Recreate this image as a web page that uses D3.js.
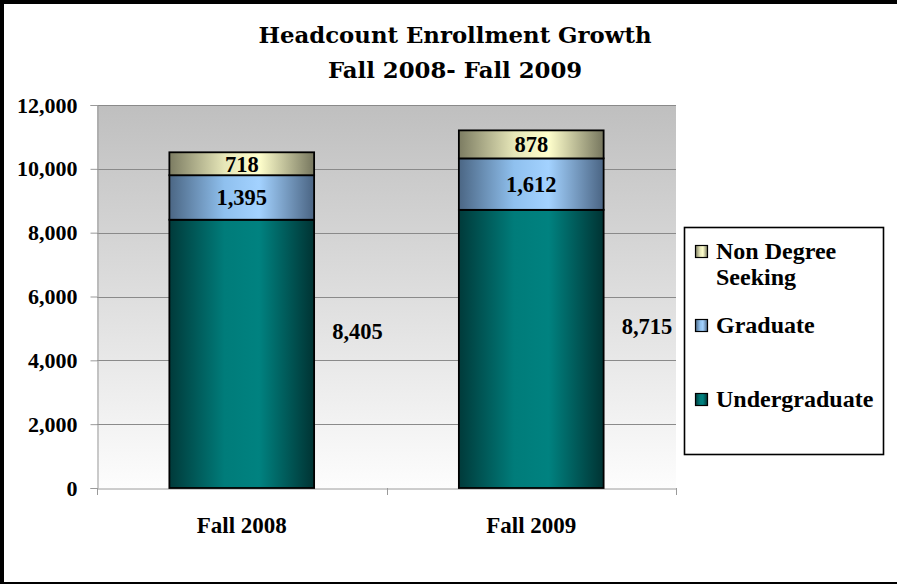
<!DOCTYPE html>
<html lang="en">
<head>
    <meta charset="UTF-8">
    <title>Headcount Enrollment Growth</title>
    <script src="https://d3js.org/d3.v7.min.js"></script>
    <style>
        body { margin: 0; background: #fff; }
        svg { display: block; }
        .num { font-family: "Liberation Serif", serif; font-weight: bold; }
        .title { font-family: "DejaVu Serif", serif; font-weight: bold; font-size: 22.8px; }
    </style>
</head>
<body>
    <svg width="897" height="584"></svg>
    <script>
        const width = 897;
        const height = 584;

        const categories = ["Fall 2008", "Fall 2009"];
        const undergraduate = [8405, 8715];
        const graduate = [1395, 1612];
        const nonDegree = [718, 878];
        const yTicks = [0, 2000, 4000, 6000, 8000, 10000, 12000];
        const seriesNames = ["Undergraduate", "Graduate", "Non Degree Seeking"];

        const svg = d3.select("svg");
        const defs = svg.append("defs");

        // plot area
        const plot = { left: 97, right: 676, top: 105, bottom: 488 };

        const x = d3.scaleBand()
            .domain(categories)
            .range([plot.left, plot.right])
            .paddingInner(0.5)
            .paddingOuter(0.25);

        const y = d3.scaleLinear()
            .domain([0, 12000])
            .range([plot.bottom, plot.top]);

        const fmt = d3.format(",");

        // gradients
        const bg = defs.append("linearGradient")
            .attr("id", "bg").attr("x1", 0).attr("y1", 0).attr("x2", 0).attr("y2", 1);
        bg.append("stop").attr("offset", 0).attr("stop-color", "#bfbfbf");
        bg.append("stop").attr("offset", 1).attr("stop-color", "#fdfdfd");

        const barColors = {
            "Undergraduate": ["#003a3a", "#007c7a", "#008280", "#003333"],
            "Graduate": ["#4b6684", "#8fc0ee", "#a3d2ff", "#4a6483"],
            "Non Degree Seeking": ["#7c7c62", "#e6e6b8", "#ffffcc", "#76765e"]
        };
        Object.entries(barColors).forEach(([name, c], i) => {
            const g = defs.append("linearGradient")
                .attr("id", "g" + i).attr("x1", 0).attr("y1", 0).attr("x2", 1).attr("y2", 0);
            g.append("stop").attr("offset", 0).attr("stop-color", c[0]);
            g.append("stop").attr("offset", 0.38).attr("stop-color", c[1]);
            g.append("stop").attr("offset", 0.62).attr("stop-color", c[2]);
            g.append("stop").attr("offset", 1).attr("stop-color", c[3]);
        });

        svg.append("rect")
            .attr("x", plot.left).attr("y", plot.top)
            .attr("width", plot.right - plot.left).attr("height", plot.bottom - plot.top)
            .attr("fill", "url(#bg)");

        // gridlines
        svg.append("g")
            .selectAll("line")
            .data(yTicks.filter(d => d > 0))
            .enter().append("line")
            .attr("x1", plot.left).attr("x2", plot.right)
            .attr("y1", d => Math.round(y(d)) + 0.5)
            .attr("y2", d => Math.round(y(d)) + 0.5)
            .attr("stroke", "#8a8a8a");

        // y axis
        const yAxis = svg.append("g")
            .attr("transform", `translate(${plot.left + 0.5},0)`)
            .call(d3.axisLeft(y).tickValues(yTicks).tickSize(7).tickPadding(13).tickFormat(fmt));
        yAxis.select(".domain").attr("stroke", "#9a9a9a");
        yAxis.selectAll(".tick line").attr("stroke", "#9a9a9a");
        yAxis.selectAll("text")
            .attr("class", "num")
            .attr("font-size", 22)
            .attr("fill", "#000");

        // x axis
        const xAxis = svg.append("g")
            .attr("transform", `translate(0,${plot.bottom + 0.5})`)
            .call(d3.axisBottom(x).tickSize(0).tickPadding(28));
        xAxis.select(".domain").attr("stroke", "#9a9a9a");
        xAxis.selectAll("text")
            .attr("class", "num")
            .attr("font-size", 23)
            .attr("fill", "#000");

        const bounds = [plot.left].concat(categories.map(c => x(c) + x.bandwidth() / 2 + x.step() / 2));
        svg.append("g")
            .selectAll("line")
            .data(bounds)
            .enter().append("line")
            .attr("x1", d => Math.round(d) + 0.5).attr("x2", d => Math.round(d) + 0.5)
            .attr("y1", plot.bottom).attr("y2", plot.bottom + 7)
            .attr("stroke", "#9a9a9a");

        // stacked bars
        const rows = categories.map((c, i) => ({
            category: c,
            "Undergraduate": undergraduate[i],
            "Graduate": graduate[i],
            "Non Degree Seeking": nonDegree[i]
        }));
        const stacked = d3.stack().keys(seriesNames)(rows);

        const layers = svg.append("g")
            .selectAll("g")
            .data(stacked)
            .enter().append("g")
            .attr("fill", (d, i) => `url(#g${i})`);

        layers.selectAll("rect")
            .data(d => d)
            .enter().append("rect")
            .attr("x", d => x(d.data.category))
            .attr("y", d => y(d[1]))
            .attr("width", x.bandwidth())
            .attr("height", d => y(d[0]) - y(d[1]))
            .attr("stroke", "#000")
            .attr("stroke-width", 1.8);

        // value labels
        stacked.forEach((layer, i) => {
            svg.append("g")
                .selectAll("text")
                .data(layer)
                .enter().append("text")
                .attr("class", "num")
                .attr("font-size", 22.5)
                .attr("text-anchor", i === 0 ? "start" : "middle")
                .attr("x", d => i === 0 ? x(d.data.category) + x.bandwidth() + 18 : x(d.data.category) + x.bandwidth() / 2)
                .attr("y", d => i === 0 ? y(d[1] * 0.58) + 7 : y((d[0] + d[1]) / 2) + 8)
                .text(d => fmt(d[1] - d[0]));
        });

        // title
        svg.append("text")
            .attr("class", "title")
            .attr("x", 455).attr("y", 43)
            .attr("text-anchor", "middle")
            .text("Headcount Enrollment Growth");
        svg.append("text")
            .attr("class", "title")
            .attr("x", 455).attr("y", 78)
            .attr("text-anchor", "middle")
            .text("Fall 2008- Fall 2009");

        // legend
        const legend = svg.append("g");
        legend.append("rect")
            .attr("x", 684.5).attr("y", 227.5)
            .attr("width", 199).attr("height", 227)
            .attr("fill", "#fff")
            .attr("stroke", "#000")
            .attr("stroke-width", 1.6);

        const legendItems = [
            { key: "Non Degree Seeking", lines: ["Non Degree", "Seeking"], y: 259 },
            { key: "Graduate", lines: ["Graduate"], y: 333 },
            { key: "Undergraduate", lines: ["Undergraduate"], y: 407 }
        ];
        legendItems.forEach(item => {
            const i = seriesNames.indexOf(item.key);
            legend.append("rect")
                .attr("x", 695.5).attr("y", item.y - 13.5)
                .attr("width", 12).attr("height", 12)
                .attr("fill", `url(#g${i})`)
                .attr("stroke", "#000")
                .attr("stroke-width", 1.2);
            item.lines.forEach((t, j) => {
                legend.append("text")
                    .attr("class", "num")
                    .attr("font-size", 24)
                    .attr("x", 716).attr("y", item.y + j * 26)
                    .text(t);
            });
        });

        // outer frame
        svg.append("rect").attr("x", 0).attr("y", 0).attr("width", width).attr("height", 4).attr("fill", "#000");
        svg.append("rect").attr("x", 0).attr("y", 0).attr("width", 4).attr("height", height).attr("fill", "#000");
        svg.append("rect").attr("x", 0).attr("y", height - 2).attr("width", width).attr("height", 2).attr("fill", "#000");
    </script>
</body>
</html>
